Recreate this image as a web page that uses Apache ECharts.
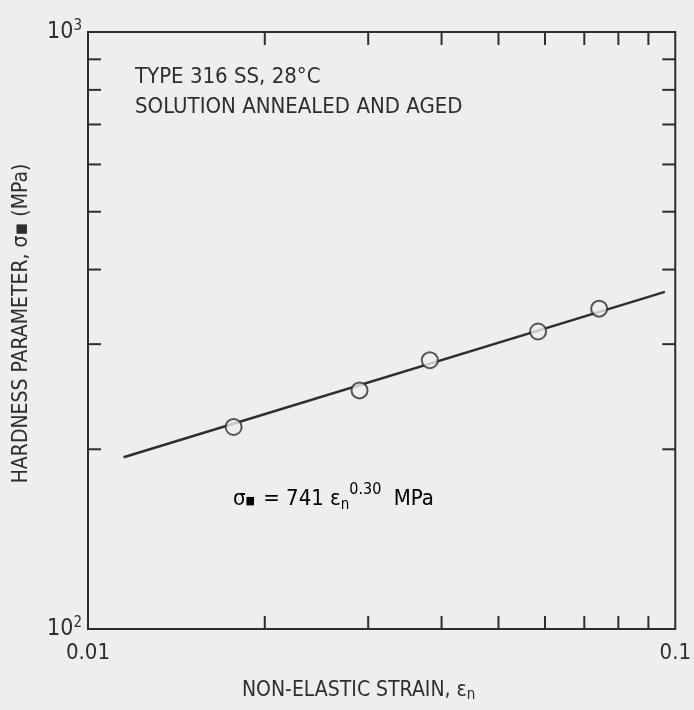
<!DOCTYPE html>
<html>
<head>
<meta charset="utf-8">
<script src="https://cdn.jsdelivr.net/npm/echarts@6/dist/echarts.min.js"></script>
<style>
html,body{margin:0;padding:0;background:#eeeeec;}
#main{width:694px;height:710px;}
</style>
</head>
<body>
<div id="main"></div>
<script>
// Data
const strain = [0.0177, 0.0290, 0.0382, 0.0584, 0.0742];
const hardness = [218, 251, 282, 315, 344];
const fitStrain = [0.0115, 0.096];
const fitHardness = [194, 367];
const xMinorTicks = [0.02, 0.03, 0.04, 0.05, 0.06, 0.07, 0.08, 0.09];
const yMinorTicks = [200, 300, 400, 500, 600, 700, 800, 900];
const xRange = [0.01, 0.1];
const yRange = [100, 1000];

const INK = '#2e2e2e';
const FONT = '"DejaVu Sans Condensed","Liberation Sans Narrow",sans-serif';
const TICK = 13;

const chart = echarts.init(document.getElementById('main'));

function tickItem(dir) {
  return function (params, api) {
    const v = api.value(dir === 'x' ? 0 : 1);
    const lineStyle = { stroke: INK, lineWidth: 2 };
    if (dir === 'x') {
      const b = api.coord([v, yRange[0]]);
      const t = api.coord([v, yRange[1]]);
      return { type: 'group', children: [
        { type: 'line', shape: { x1: b[0], y1: b[1], x2: b[0], y2: b[1] - TICK }, style: lineStyle },
        { type: 'line', shape: { x1: t[0], y1: t[1], x2: t[0], y2: t[1] + TICK }, style: lineStyle }
      ]};
    } else {
      const l = api.coord([xRange[0], v]);
      const r = api.coord([xRange[1], v]);
      return { type: 'group', children: [
        { type: 'line', shape: { x1: l[0], y1: l[1], x2: l[0] + TICK, y2: l[1] }, style: lineStyle },
        { type: 'line', shape: { x1: r[0], y1: r[1], x2: r[0] - TICK, y2: r[1] }, style: lineStyle }
      ]};
    }
  };
}

const option = {
  backgroundColor: '#eeeeec',
  animation: false,
  grid: { left: 88, right: 11, top: 32, bottom: 81, show: true, borderColor: INK, borderWidth: 2, backgroundColor: 'transparent' },
  xAxis: {
    type: 'log', logBase: 10, min: xRange[0], max: xRange[1],
    name: '{t|NON-ELASTIC STRAIN, ε}{n|n}',
    nameLocation: 'middle', nameGap: 49,
    nameTextStyle: { fontFamily: FONT, fontSize: 21, color: INK, padding: [0, 46, 0, 0],
      rich: { t: { fontFamily: FONT, fontSize: 21, color: INK }, n: { fontFamily: FONT, fontSize: 15, color: INK, padding: [10, 0, 0, 0] } } },
    axisLine: { show: false }, axisTick: { show: false }, splitLine: { show: false },
    axisLabel: { fontFamily: FONT, fontSize: 22, color: INK, margin: 13,
      formatter: function (v) { return v < 0.05 ? '0.01' : '0.1'; } }
  },
  yAxis: {
    type: 'log', logBase: 10, min: yRange[0], max: yRange[1],
    name: 'HARDNESS PARAMETER, σ▪ (MPa)',
    nameLocation: 'middle', nameGap: 56, nameRotate: 90,
    nameTextStyle: { fontFamily: FONT, fontSize: 21, color: INK, padding: [0, 0, 0, 14] },
    axisLine: { show: false }, axisTick: { show: false }, splitLine: { show: false },
    axisLabel: { fontFamily: FONT, color: INK, margin: 6,
      formatter: function (v) { return v > 500 ? '{a|10}{s|3}' : '{a|10}{s|2}'; },
      rich: { a: { fontFamily: FONT, fontSize: 23, color: INK }, s: { fontFamily: FONT, fontSize: 15, color: INK, padding: [0, 0, 12, 0] } } }
  },
  graphic: [
    { type: 'text', x: 135, y: 77, style: { text: 'TYPE 316 SS, 28°C', font: '22px ' + FONT, fill: INK, verticalAlign: 'middle' } },
    { type: 'text', x: 135, y: 107, style: { text: 'SOLUTION ANNEALED AND AGED', font: '22px ' + FONT, fill: INK, verticalAlign: 'middle' } },
    { type: 'text', x: 233, y: 499, style: {
      text: '{t|σ}{q|■}{t| = 741 ε}{sb|n}{sp|0.30}{t| MPa}',
      verticalAlign: 'middle',
      rich: {
        t: { fontFamily: FONT, fontSize: 22, color: INK },
        q: { fontFamily: FONT, fontSize: 11, color: INK, padding: [4, 2, 0, 0] },
        sb: { fontFamily: FONT, fontSize: 15, color: INK, padding: [12, 0, 0, 0] },
        sp: { fontFamily: FONT, fontSize: 16, color: INK, padding: [0, 6, 18, 0] }
      } } }
  ],
  series: [
    { type: 'line', data: fitStrain.map((x, i) => [x, fitHardness[i]]), symbol: 'none',
      lineStyle: { color: INK, width: 2.5 }, z: 2 },
    { type: 'scatter', data: strain.map((x, i) => [x, hardness[i]]), symbol: 'circle', symbolSize: 16,
      itemStyle: { color: '#eeeeec', borderColor: INK, borderWidth: 2 }, z: 3 },
    { type: 'custom', data: xMinorTicks.map(v => [v, yRange[0]]), renderItem: tickItem('x'), encode: { x: 0, y: 1 }, silent: true, z: 4 },
    { type: 'custom', data: yMinorTicks.map(v => [xRange[0], v]), renderItem: tickItem('y'), encode: { x: 0, y: 1 }, silent: true, z: 4 }
  ]
};
chart.setOption(option);
</script>
</body>
</html>
